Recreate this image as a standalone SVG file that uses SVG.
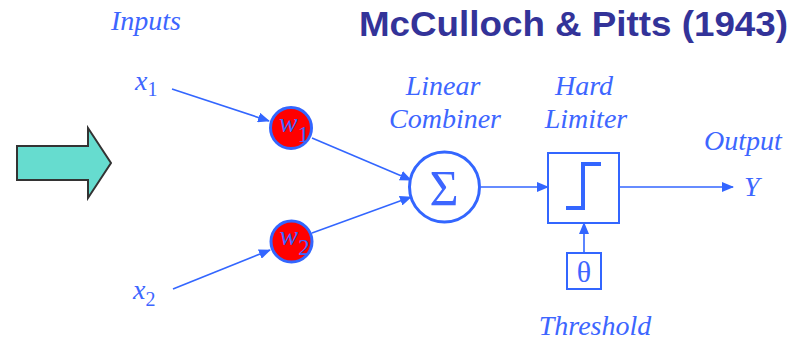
<svg xmlns="http://www.w3.org/2000/svg" width="795" height="342" viewBox="0 0 795 342">
  <defs>
    <marker id="ah" markerWidth="12" markerHeight="10" refX="11" refY="5" orient="auto" markerUnits="userSpaceOnUse">
      <path d="M0,0 L12,5 L0,10 Z" fill="#3366ff"/>
    </marker>
  </defs>
  <style>
    .lbl { font-family: "Liberation Serif", "Times New Roman", serif; font-style: italic; font-size: 28px; fill: #3d66ff; }
    .sym { font-family: "Liberation Serif", "Times New Roman", serif; fill: #3d66ff; }
    .edge { stroke: #3366ff; stroke-width: 1.6; fill: none; }
    .wt { fill: #ff0000; stroke: #3366ff; stroke-width: 3; }
    .box { fill: #ffffff; stroke: #3366ff; stroke-width: 2; }
  </style>
  <rect width="795" height="342" fill="#ffffff"/>

  <text x="359" y="36" font-family="Liberation Sans, Arial, sans-serif" font-weight="bold" font-size="35" fill="#333399" textLength="429" lengthAdjust="spacingAndGlyphs">McCulloch &amp; Pitts (1943)</text>

  <g id="big-arrow">
    <polygon points="17,146 88,146 88,128 111,163 88,198 88,180 17,180" fill="#66dccf" stroke="#333333" stroke-width="2"/>
  </g>

  <g id="connectors">
    <line class="edge" x1="172" y1="89" x2="269" y2="121" marker-end="url(#ah)"/>
    <line class="edge" x1="173" y1="289" x2="270" y2="250" marker-end="url(#ah)"/>
    <line class="edge" x1="312" y1="138" x2="411" y2="180" marker-end="url(#ah)"/>
    <line class="edge" x1="312" y1="233" x2="411" y2="197" marker-end="url(#ah)"/>
    <line class="edge" x1="481" y1="187" x2="548" y2="187" marker-end="url(#ah)"/>
    <line class="edge" x1="619" y1="187" x2="733" y2="187" marker-end="url(#ah)"/>
    <line class="edge" x1="584" y1="253" x2="584" y2="223" marker-end="url(#ah)"/>
  </g>

  <g id="inputs">
    <text class="lbl" x="111" y="30">Inputs</text>
    <text class="lbl" x="135" y="90">x<tspan font-size="20" font-style="normal" dy="6">1</tspan></text>
    <text class="lbl" x="133" y="299">x<tspan font-size="20" font-style="normal" dy="7">2</tspan></text>
  </g>

  <g id="w1">
    <circle class="wt" cx="291" cy="128" r="20.5"/>
    <text class="lbl" x="279" y="132" font-size="24">w<tspan font-size="23" font-style="normal" dy="10">1</tspan></text>
  </g>

  <g id="w2">
    <circle class="wt" cx="291.5" cy="241.5" r="20.5"/>
    <text class="lbl" x="279.5" y="245" font-size="24">w<tspan font-size="23" font-style="normal" dy="10">2</tspan></text>
  </g>

  <g id="combiner">
    <text class="lbl" x="443" y="95" text-anchor="middle">Linear</text>
    <text class="lbl" x="445" y="128" text-anchor="middle">Combiner</text>
    <circle cx="444.5" cy="187" r="35" fill="#ffffff" stroke="#3366ff" stroke-width="3"/>
    <text class="sym" x="444" y="205" text-anchor="middle" font-size="50">Σ</text>
  </g>

  <g id="limiter">
    <text class="lbl" x="584" y="95" text-anchor="middle">Hard</text>
    <text class="lbl" x="586" y="128" text-anchor="middle">Limiter</text>
    <rect class="box" x="548" y="153" width="71" height="70"/>
    <polyline points="566,208 583,208 583,164 601,164" fill="none" stroke="#3366ff" stroke-width="4"/>
  </g>

  <g id="threshold">
    <rect class="box" x="567" y="253" width="34" height="36"/>
    <text class="sym" x="584" y="282" text-anchor="middle" font-size="30">θ</text>
    <text class="lbl" x="595" y="335" text-anchor="middle">Threshold</text>
  </g>

  <g id="output">
    <text class="lbl" x="743" y="150" text-anchor="middle">Output</text>
    <text class="lbl" x="744" y="196">Y</text>
  </g>
</svg>
